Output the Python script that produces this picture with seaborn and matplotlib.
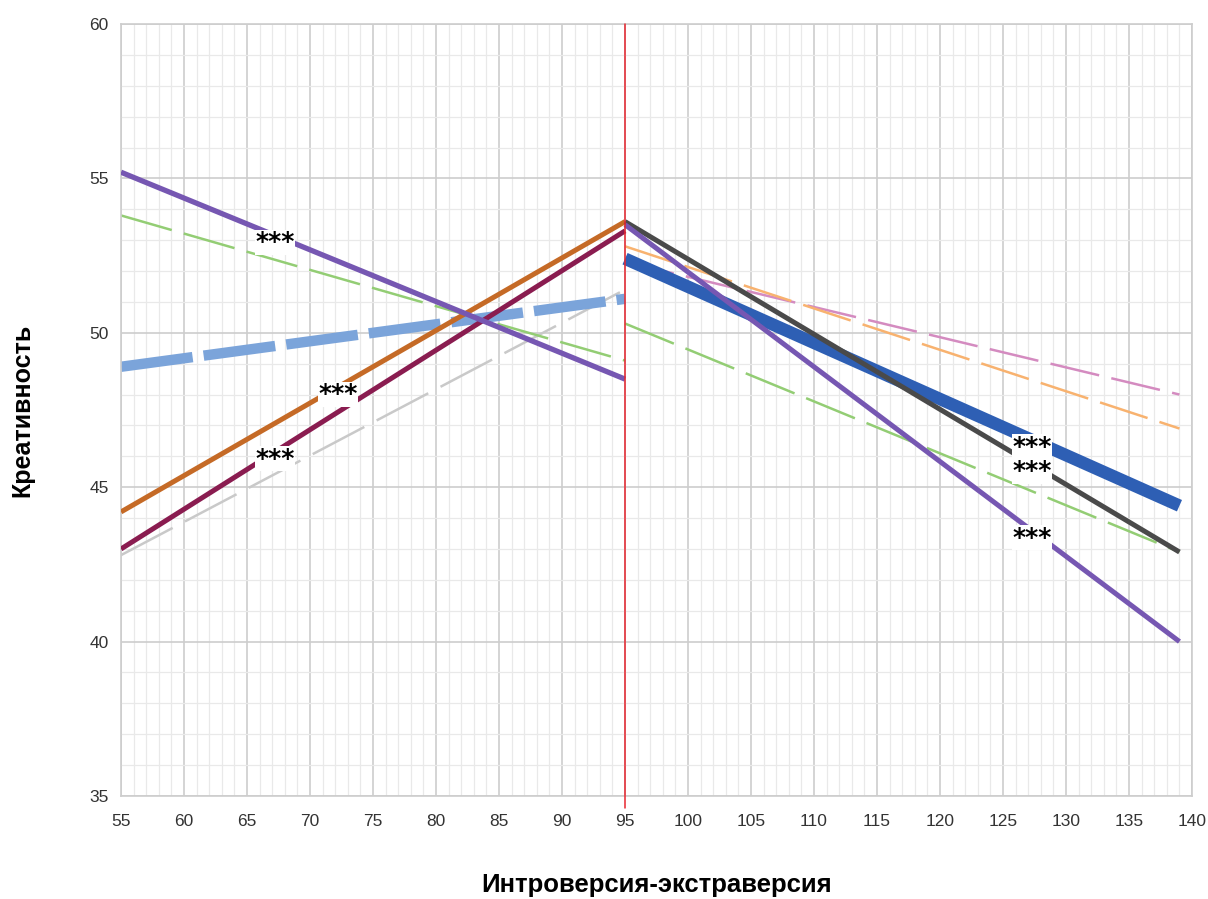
import numpy as np
import pandas as pd
import matplotlib
matplotlib.use('Agg')
import matplotlib.pyplot as plt
from matplotlib.ticker import MultipleLocator
import seaborn as sns

sns.set_theme(style='white')
plt.rcParams['font.family'] = ['Liberation Sans', 'DejaVu Sans']
plt.rcParams['lines.scale_dashes'] = False

# left half (introverts) and right half (extraverts)
x_left = [55, 95]
x_right = [95, 139]

purple_left = [55.2, 48.5]
green_left = [53.8, 49.1]
lightblue_left = [48.9, 51.1]
orange_left = [44.2, 53.6]
maroon_left = [43.0, 53.3]
gray_left = [42.8, 51.4]

pink_right = [52.3, 48.0]
peach_right = [52.8, 46.9]
green_right = [50.3, 42.9]
blue_right = [52.4, 44.4]
dark_right = [53.6, 42.9]
purple_right = [53.5, 40.0]

# where the significance marks sit (x position, which line)
star_x_left = [67.2, 72.2, 67.2]
star_x_right = [127.3, 127.3, 127.3]

x_ticks = list(range(55, 141, 5))
y_ticks = list(range(35, 61, 5))

fig, ax = plt.subplots(figsize=(12.08, 8.99), dpi=100)
fig.subplots_adjust(left=0.1002, right=0.9868, top=0.9733, bottom=0.1146)


def draw(x, y, color, lw, dash=None, z=2):
    df = pd.DataFrame({'x': x, 'y': y})
    kw = {}
    if dash is not None:
        kw['linestyle'] = (0, dash)
    sns.lineplot(data=df, x='x', y='y', ax=ax, color=color, linewidth=lw,
                 solid_capstyle='butt', dash_capstyle='butt', zorder=z, **kw)


# left side
draw(x_left, gray_left, '#C9C9C9', 1.8, (42, 10))
draw(x_left, green_left, '#93CD74', 1.8, (38, 9))
draw(x_left, lightblue_left, '#7BA4DA', 7.5, (52, 8))
draw(x_left, orange_left, '#C56A26', 3.6, z=3)
draw(x_left, maroon_left, '#8A1C50', 3.6, z=3)
draw(x_left, purple_left, '#7657B2', 3.8, z=3)

# right side
draw(x_right, pink_right, '#D48BC0', 1.8, (36, 9))
draw(x_right, peach_right, '#F8B26F', 1.8, (36, 9))
draw(x_right, green_right, '#93CD74', 1.8, (38, 9))
draw(x_right, blue_right, '#2E5FB4', 9, z=3)
draw(x_right, dark_right, '#4A4A4A', 3.6, z=4)
draw(x_right, purple_right, '#7657B2', 3.6, z=4)

ax.axvline(95, ymin=-0.016, color='#E8262F', lw=1.1, zorder=5, clip_on=False)


def stars(xs, xline, lines):
    for sx, line in zip(xs, lines):
        sy = np.interp(sx, xline, line)
        ax.annotate('***', (sx, sy), xytext=(0, -5), textcoords='offset points',
                    ha='center', va='center', fontsize=18, fontweight='bold',
                    family='DejaVu Sans', color='black', zorder=6,
                    bbox=dict(facecolor='white', edgecolor='none', pad=0.3))


# *** marks on the lines
stars(star_x_left, x_left, [purple_left, orange_left, maroon_left])
stars(star_x_right, x_right, [blue_right, dark_right, purple_right])

ax.set_xlim(55, 140)
ax.set_ylim(35, 60)
ax.set_xticks(x_ticks)
ax.set_yticks(y_ticks)
ax.xaxis.set_minor_locator(MultipleLocator(1))
ax.yaxis.set_minor_locator(MultipleLocator(1))
ax.grid(which='major', color='#CDCDCD', lw=1.2, zorder=0)
ax.grid(which='minor', color='#E9E9E9', lw=0.9, zorder=0)
ax.set_axisbelow(True)
for s in ax.spines.values():
    s.set_color('#CDCDCD')
    s.set_linewidth(1.2)
ax.tick_params(which='both', length=0, labelsize=12.5, colors='#333333')
ax.tick_params(axis='x', pad=13)
ax.tick_params(axis='y', pad=9)

ax.set_xlabel('Интроверсия-экстраверсия', fontsize=18.5, fontweight='bold', color='black')
ax.set_ylabel('Креативность', fontsize=18, fontweight='bold', color='black')
ax.xaxis.set_label_coords(0.5, -(885 - 796) / 772)
ax.xaxis.label.set_va('center')
ax.yaxis.set_label_coords(-(121 - 22) / 1071, 0.5)
ax.yaxis.label.set_va('center')

fig.savefig('out.png', dpi=100, facecolor='white')
